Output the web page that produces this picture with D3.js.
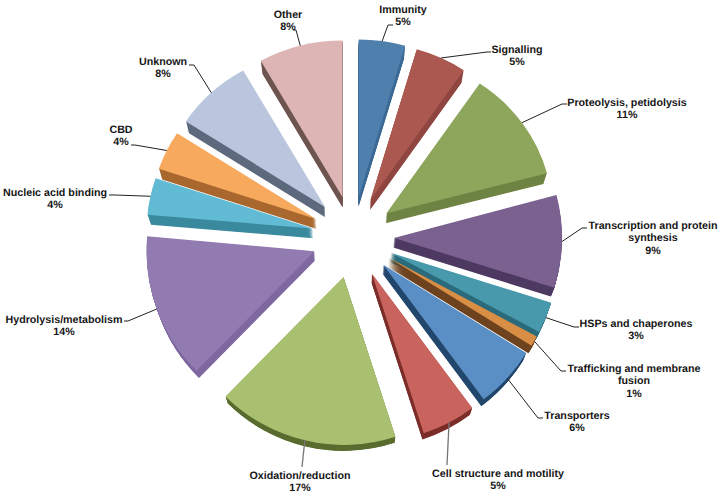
<!DOCTYPE html>
<html>
<head>
<meta charset="utf-8">
<script src="https://cdn.jsdelivr.net/npm/d3@7"></script>
<style>
  html, body { margin: 0; background: #fff; }
  text { font-family: "Liberation Sans", Arial, sans-serif; font-weight: 700; font-size: 10.7px; fill: #161616; text-rendering: geometricPrecision; }
</style>
</head>
<body>
<svg id="chart" width="722" height="496"></svg>
<script>
// Data
const categories = [
  "Immunity", "Signalling", "Proteolysis, petidolysis", "Transcription and protein synthesis",
  "HSPs and chaperones", "Trafficking and membrane fusion", "Transporters",
  "Cell structure and motility", "Oxidation/reduction", "Hydrolysis/metabolism",
  "Nucleic acid binding", "CBD", "Unknown", "Other"
];
const values = [4.5, 5, 11.4, 8.9, 3, 1, 6, 5.2, 17.4, 14, 3.8, 4, 7.6, 8.2];

// Colours
const topColors = ["#4f7fac", "#ab5850", "#8ea55c", "#7a6190", "#4899ab", "#d98e45", "#5a8fc5",
  "#c8635d", "#a8c070", "#927bb0", "#62bbd4", "#f7aa5e", "#b9c6de", "#ddb5b5"];
const sideColors = ["#3d6a95", "#8f4640", "#6f8444", "#4e3a62", "#2b6b7c", "#6f4420", "#24486d",
  "#7c2e2a", "#5a6d30", "#7f69a0", "#3b8a9e", "#a9682f", "#5e6a7e", "#6e5550"];

// Label layout: text lines, centre x, first baseline, elbow and line end of the leader
const labelLines = [
  ["Immunity", "5%"], ["Signalling", "5%"], ["Proteolysis, petidolysis", "11%"],
  ["Transcription and protein", "synthesis", "9%"], ["HSPs and chaperones", "3%"],
  ["Trafficking and membrane", "fusion", "1%"], ["Transporters", "6%"],
  ["Cell structure and motility", "5%"], ["Oxidation/reduction", "17%"],
  ["Hydrolysis/metabolism", "14%"], ["Nucleic acid binding", "4%"], ["CBD", "4%"],
  ["Unknown", "8%"], ["Other", "8%"]
];
const labelX = [403, 517, 627, 653, 636, 634, 577, 498, 300, 64, 55, 121, 163, 288];
const labelY = [12.5, 52.5, 105.5, 228.5, 326.5, 371.5, 418.5, 476.5, 478.5, 322.5, 195.5, 132.5, 64.5, 17.5];
const leaderElbow = [[388, 25], [487, 52], [562, 104], [582, 228], [574, 327], [561, 371], [538, 418],
  [447, 465], [302, 467], [128, 321], [115, 195], [135, 145], [194, 65], [296, 30]];
const leaderEnd = [[393, 25], [491, 52], [567, 104], [587, 228], [579, 327], [566, 371], [543, 418],
  null, null, [124, 321], [109, 195], [131, 145], [189, 65], [293, 30]];

const svg = d3.select("#chart");

const center = { x: 353, y: 237 };
const radius = 166;
const explode = 41;
const topSquash = 0.945;           // upper slices look a little foreshortened
const bottomGrow = 1.012;          // lower slices come a little closer
const vanish = { x: 345, y: 800 }; // the extruded sides shrink toward this point
const depth = 0.017;
const lineHeight = 12.5;

const pie = d3.pie().sort(null).value(d => d);
const slices = pie(values);
const arc = d3.arc().innerRadius(0).outerRadius(radius);

const midAngle = d => (d.startAngle + d.endAngle) / 2;
const isUpper = d => Math.cos(midAngle(d)) > 0.05;

const sliceOrigin = d => {
  const [ox, oy] = d3.pointRadial(midAngle(d), explode);
  return [center.x + ox, center.y + oy];
};

const sliceScale = d => isUpper(d) ? [1, topSquash] : [bottomGrow, bottomGrow];

const sliceTransform = d => {
  const [x, y] = sliceOrigin(d);
  const [sx, sy] = sliceScale(d);
  return `translate(${x},${y}) scale(${sx},${sy})`;
};

// Sides and faces
const steps = d3.range(14, 0, -1);

slices.forEach((d, i) => {
  const g = svg.append("g");

  steps.forEach(s => {
    const k = 1 - depth * s / 14;
    g.append("g")
      .attr("transform", `translate(${vanish.x},${vanish.y}) scale(${k}) translate(${-vanish.x},${-vanish.y})`)
      .append("path")
      .attr("d", arc(d))
      .attr("transform", sliceTransform(d))
      .attr("fill", sideColors[i]);
  });

  g.append("path")
    .attr("d", arc(d))
    .attr("transform", sliceTransform(d))
    .attr("fill", topColors[i]);
});

// Leaders
slices.forEach((d, i) => {
  const [x, y] = sliceOrigin(d);
  const [sx, sy] = sliceScale(d);
  const [px, py] = d3.pointRadial(midAngle(d), radius);
  const start = [x + px * sx, y + py * sy];
  const pts = [start, leaderElbow[i]];
  if (leaderEnd[i]) pts.push(leaderEnd[i]);

  svg.append("path")
    .attr("d", d3.line()(pts))
    .attr("fill", "none")
    .attr("stroke", leaderEnd[i] ? "#222" : "#777")
    .attr("stroke-width", leaderEnd[i] ? 1 : 1.3);
});

// Labels
categories.forEach((name, i) => {
  const t = svg.append("text")
    .attr("text-anchor", "middle")
    .attr("y", labelY[i]);

  labelLines[i].forEach((line, j) => {
    t.append("tspan")
      .attr("x", labelX[i])
      .attr("y", labelY[i] + j * lineHeight)
      .text(line);
  });
});
</script>
</body>
</html>
